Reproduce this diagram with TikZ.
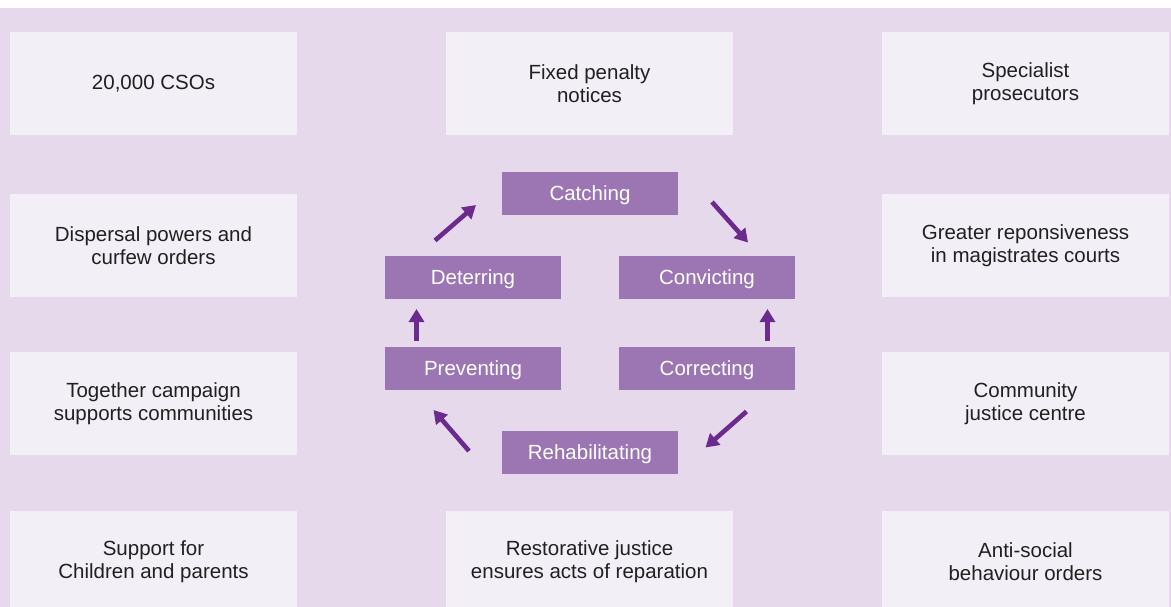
\documentclass[tikz,border=0pt]{standalone}
\usepackage{fontspec}
\setmainfont{Liberation Sans}
\usetikzlibrary{arrows.meta}
\definecolor{bgpurple}{HTML}{E6D9EC}
\definecolor{boxfill}{HTML}{F2EFF6}
\definecolor{stagefill}{HTML}{9B76B3}
\definecolor{arrowcol}{HTML}{6A2A8E}
\definecolor{txt}{HTML}{231F20}
\tikzset{
  outerbox/.style={fill=boxfill, draw=none, minimum width=287pt, minimum height=103pt,
    inner sep=0pt, align=center, text=txt, font=\fontsize{20.5pt}{23.5pt}\selectfont},
  outertext/.style={align=center, text=txt, font=\fontsize{20.5pt}{23.5pt}\selectfont},
  stagebox/.style={fill=stagefill, draw=none, minimum width=176pt, minimum height=42.5pt,
    inner sep=0pt, text=white, text height=15pt, text depth=1pt, font=\fontsize{20.5pt}{23.5pt}\selectfont},
  cyclearrow/.style={draw=arrowcol, line width=4.6pt, -{Triangle[length=13pt,width=15pt]}}
}
\begin{document}
\begin{tikzpicture}[x=1pt,y=-1pt]
\useasboundingbox (0,0) rectangle (1171,607);
\fill[white] (0,0) rectangle (1171,607);
\fill[bgpurple] (0,8) rectangle (1171,607);
% outer boxes
\node[outerbox] (b11) at (153.5,83.5) {20,000 CSOs};
\node[outerbox] (b12) at (589.5,83.5) {Fixed penalty\\notices};
\node[outerbox] (b13) at (1025.5,83.5) {Specialist\\prosecutors};
\node[outerbox] (b21) at (153.5,245.5) {Dispersal powers and\\curfew orders};
\node[outerbox] (b23) at (1025.5,245.5) {Greater reponsiveness\\in magistrates courts};
\node[outerbox] (b31) at (153.5,403.5) {Together campaign\\supports communities};
\node[outerbox] (b33) at (1025.5,403.5) {Community\\justice centre};
\fill[boxfill] (10,511) rectangle (297,607);
\fill[boxfill] (446,511) rectangle (733,607);
\fill[boxfill] (882,511) rectangle (1169,607);
\node[outertext] (b41) at (153.5,561.5) {Support for\\Children and parents};
\node[outertext] (b42) at (589.5,561.5) {Restorative justice\\ensures acts of reparation};
\node[outertext] (b43) at (1025.5,561.5) {Anti-social\\behaviour orders};
% stage boxes
\node[stagebox] (catch) at (590,193.5) {Catching};
\node[stagebox] (deter) at (473,277.5) {Deterring};
\node[stagebox] (convict) at (707,277.5) {Convicting};
\node[stagebox] (prevent) at (473,368.5) {Preventing};
\node[stagebox] (correct) at (707,368.5) {Correcting};
\node[stagebox] (rehab) at (590,452.5) {Rehabilitating};
% arrow endpoints
\coordinate (a1s) at (435,240.5);
\coordinate (a1e) at (476,205);
\coordinate (a2s) at (712,202);
\coordinate (a2e) at (748,242.5);
\coordinate (a3s) at (767.5,340.5);
\coordinate (a3e) at (767.5,309);
\coordinate (a4s) at (746.5,411.5);
\coordinate (a4e) at (705.5,447.5);
\coordinate (a5s) at (469,451);
\coordinate (a5e) at (433.5,410);
\coordinate (a6s) at (416.5,340.5);
\coordinate (a6e) at (416.5,309);
\draw[cyclearrow] (a1s) -- (a1e);
\draw[cyclearrow] (a2s) -- (a2e);
\draw[cyclearrow] (a3s) -- (a3e);
\draw[cyclearrow] (a4s) -- (a4e);
\draw[cyclearrow] (a5s) -- (a5e);
\draw[cyclearrow] (a6s) -- (a6e);
\end{tikzpicture}
\end{document}
